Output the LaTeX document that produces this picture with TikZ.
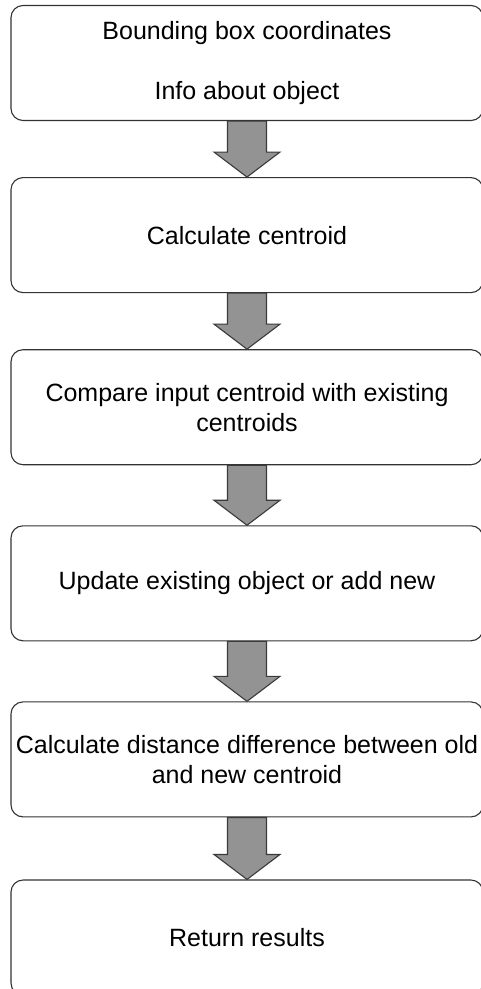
\documentclass[tikz,border=0pt]{standalone}
\usepackage{fontspec}
\setmainfont{Liberation Sans}
\usetikzlibrary{calc,positioning}
\definecolor{FlowLine}{HTML}{333333}
\definecolor{FlowArrow}{HTML}{939393}
\definecolor{FlowArrowLine}{HTML}{3A3A3A}
\tikzset{
  flow box/.style={
    draw=FlowLine,
    fill=white,
    rounded corners=12pt,
    align=center,
    minimum width=472pt,
    minimum height=115pt,
    inner sep=0pt,
    line width=1.1pt,
    font=\fontsize{25}{30}\selectfont
  },
  flow block arrow/.style={
    draw=FlowArrowLine,
    fill=FlowArrow,
    line width=1.1pt,
    line join=miter,
    to path={
      let \p1=(\tikztostart), \p2=(\tikztotarget) in
      (\x1-19.5pt,\y1) -- (\x1-19.5pt,\y2+25pt) -- (\x1-33pt,\y2+25pt)
      -- (\x1,\y2) -- (\x1+33pt,\y2+25pt) -- (\x1+19.5pt,\y2+25pt)
      -- (\x1+19.5pt,\y1) -- cycle
    }
  }
}
\begin{document}
\begin{tikzpicture}[node distance=56pt]
  \useasboundingbox (0,0) rectangle (480pt,-989pt);
  \node[flow box] (input) at (247pt,-63pt) {Bounding box coordinates\\[30pt]Info about object};
  \node[flow box,below=of input] (centroid) {Calculate centroid};
  \node[flow box,below=of centroid] (compare) {Compare input centroid with existing\\centroids};
  \node[flow box,below=60pt of compare] (update) {Update existing object or add new};
  \node[flow box,below=60pt of update] (distance) {Calculate distance difference between old\\and new centroid};
  \node[flow box,below=62pt of distance] (results) {Return results};

  \draw[flow block arrow] (input.south) to (centroid.north);
  \draw[flow block arrow] (centroid.south) to (compare.north);
  \draw[flow block arrow] (compare.south) to (update.north);
  \draw[flow block arrow] (update.south) to (distance.north);
  \draw[flow block arrow] (distance.south) to (results.north);
\end{tikzpicture}
\end{document}
